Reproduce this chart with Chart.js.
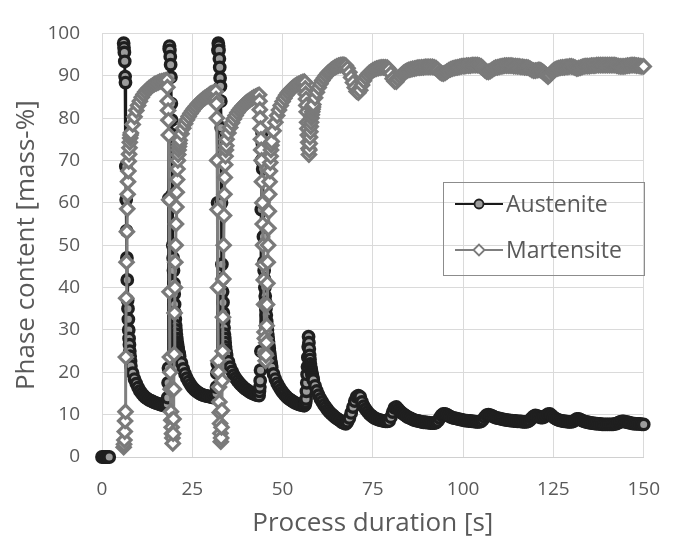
<!DOCTYPE html>
<html>
<head>
<meta charset="utf-8">
<script src="https://cdn.jsdelivr.net/npm/chart.js@4.4.1/dist/chart.umd.min.js"></script>
<style>
  html, body { margin: 0; padding: 0; background: #fff; }
  #wrap { width: 681px; height: 545px; }
</style>
</head>
<body>
<div id="wrap"><canvas id="phaseChart" width="681" height="545"></canvas></div>
<script>
// process time [s], shared by both phases
const timeS = [
    0, 0.5, 1, 1.5, 2, 4,
    // cycle 1
    6.0, 6.1, 6.2, 6.3, 6.4, 6.5, 6.6, 6.7, 6.8, 6.9, 7.0, 7.1, 7.2, 7.3, 7.4, 7.5, 7.6, 7.7, 7.8, 7.9,
    8, 8.5, 9, 9.5, 10, 10.5, 11, 11.5, 12, 12.5, 13, 13.5, 14, 14.5, 15, 15.5, 16, 16.5, 17, 17.5, 18,
    // cycle 2
    18.1, 18.2, 18.3, 18.4, 18.5, 18.6, 18.7, 18.8, 18.9, 19.0, 19.1, 19.2, 19.3, 19.4, 19.5, 19.6, 19.7,
    19.8, 19.9, 20.0, 20.1, 20.2, 20.3, 20.4, 20.5, 20.6, 20.7, 20.8, 20.9, 21.0, 21.1, 21.2, 21.3, 21.4,
    21.5, 22, 22.5, 23, 23.5, 24, 24.5, 25, 25.5, 26, 26.5, 27, 27.5, 28, 28.5, 29, 29.5, 30, 30.5, 31, 31.5,
    // cycle 3
    31.6, 31.7, 31.8, 31.9, 32.0, 32.1, 32.2, 32.3, 32.4, 32.5, 32.6, 32.7, 32.8, 32.9, 33.0,
    33.1, 33.2, 33.3, 33.4, 33.5, 33.6, 33.7, 33.8, 33.9, 34.0, 34.1, 34.2, 34.3, 34.4,
    34.5, 35, 35.5, 36, 36.5, 37, 37.5, 38, 38.5, 39, 39.5, 40, 40.5, 41, 41.5, 42, 42.5, 43, 43.5,
    // cycle 4
    43.6, 43.7, 43.8, 43.9, 44.0, 44.1, 44.2, 44.3, 44.4, 44.5, 44.6, 44.7, 44.8, 44.9, 45.0, 45.1, 45.2,
    45.3, 45.4, 45.5, 45.6, 45.7, 45.8, 45.9, 46.0, 46.1, 46.2, 46.3, 46.4, 46.5, 46.6, 46.7, 46.8, 46.9,
    47, 47.5, 48, 48.5, 49, 49.5, 50, 50.5, 51, 51.5, 52, 52.5, 53, 53.5, 54, 54.5, 55, 55.5, 56,
    // cycle 5
    56.2, 56.3, 56.4, 56.5, 56.6, 56.7, 56.8, 56.9, 57.0, 57.1, 57.2, 57.3, 57.4, 57.5, 57.6, 57.7,
    57.8, 57.9, 58.0, 58.1, 58.2, 58.3, 58.4,
    58.5, 59, 59.5, 60, 60.5, 61, 61.5, 62, 62.5, 63, 63.5, 64, 64.5, 65, 65.5, 66, 66.5, 67,
    // later, damped cycles
    67.5, 68, 68.5, 69, 69.5, 70, 70.5, 71, 71.5, 72,
    72.5, 73, 73.5, 74, 74.5, 75, 75.5, 76, 76.5, 77,
    77.5, 78, 78.5, 79, 79.5, 80, 80.5, 81, 81.5, 82,
    82.5, 83, 83.5, 84, 84.5, 85, 85.5, 86, 86.5, 87,
    87.5, 88, 88.5, 89, 89.5, 90, 90.5, 91, 91.5, 92,
    92.5, 93, 93.5, 94, 94.5, 95, 95.5, 96, 96.5, 97,
    97.5, 98, 98.5, 99, 99.5, 100, 100.5, 101, 101.5, 102,
    102.5, 103, 103.5, 104, 104.5, 105, 105.5, 106, 106.5, 107,
    107.5, 108, 108.5, 109, 109.5, 110, 110.5, 111, 111.5, 112,
    112.5, 113, 113.5, 114, 114.5, 115, 115.5, 116, 116.5, 117,
    117.5, 118, 118.5, 119, 119.5, 120, 120.5, 121, 121.5, 122,
    122.5, 123, 123.5, 124, 124.5, 125, 125.5, 126, 126.5, 127,
    127.5, 128, 128.5, 129, 129.5, 130, 130.5, 131, 131.5, 132,
    132.5, 133, 133.5, 134, 134.5, 135, 135.5, 136, 136.5, 137,
    137.5, 138, 138.5, 139, 139.5, 140, 140.5, 141, 141.5, 142,
    142.5, 143, 143.5, 144, 144.5, 145, 145.5, 146, 146.5, 147,
    147.5, 148, 148.5, 149, 149.5, 150
];

// austenite [mass-%]
const austenite = [
    0, 0, 0, 0, 0, null,
    97.7, 96.6, 95.5, 93.4, 89.8, 88.4, 68.6, 60.7, 53.4, 47.0, 41.8, 37.0, 35.0, 32.5, 30.0, 28.0, 26.5, 25.0, 23.8, 22.6,
    21.5, 19.8, 18.4, 17.3, 16.4, 15.6, 15.0, 14.5, 14.1, 13.8, 13.5, 13.3, 13.1, 12.9, 12.7, 12.6, 12.4, 12.3, 12.2, 12.1, 12.0,
    12.5, 14.0, 17.5, 21.0, 61.0, 96.4, 97.0, 96.0, 94.5, 92.6, 89.7, 83.4, 79.5, 76.1, 62.0, 50.0, 47.0,
    44.0, 41.0, 38.5, 36.0, 34.0, 32.5, 31.0, 30.0, 29.0, 28.0, 27.2, 26.6, 26.0, 25.5, 25.0, 24.6, 24.2,
    23.8, 22.2, 20.8, 19.6, 18.6, 17.8, 17.1, 16.5, 16.0, 15.6, 15.3, 15.0, 14.8, 14.6, 14.5, 14.4, 14.3, 14.2, 14.1, 14.0, 14.0,
    15.0, 16.5, 19.8, 22.0, 60.0, 96.0, 97.7, 97.0, 96.0, 94.0, 92.0, 89.5, 87.5, 84.0, 77.7,
    60.0, 45.5, 42.0, 39.0, 36.5, 34.0, 32.0, 30.5, 29.0, 28.0, 27.0, 26.0, 25.2, 24.5,
    24.0, 22.5, 21.2, 20.2, 19.3, 18.6, 18.0, 17.5, 17.0, 16.6, 16.2, 15.9, 15.6, 15.3, 15.1, 14.9, 14.7, 14.6, 14.5,
    15.5, 16.5, 18.0, 20.5, 25.0, 58.4, 70.0, 76.6, 74.0, 68.0, 60.0, 52.0, 46.0, 44.0, 42.0, 40.0, 38.0,
    36.5, 35.0, 33.5, 32.0, 31.0, 30.0, 29.0, 28.0, 27.2, 26.4, 25.6, 24.8, 24.0, 23.3, 22.7, 22.1, 21.6,
    21.2, 19.6, 18.4, 17.4, 16.6, 15.9, 15.3, 14.8, 14.3, 13.9, 13.6, 13.3, 13.0, 12.8, 12.6, 12.4, 12.3, 12.2, 12.1,
    12.3, 12.6, 13.0, 13.7, 15.5, 17.5, 19.5, 21.3, 23.5, 26.0, 28.4, 27.0, 25.5, 24.0, 23.0, 22.0,
    21.3, 20.7, 20.2, 19.8, 19.4, 19.0, 18.6,
    18.2, 16.8, 15.6, 14.6, 13.7, 13.0, 12.3, 11.7, 11.1, 10.6, 10.2, 9.8, 9.4, 9.1, 8.8, 8.5, 8.2, 8.0,
    7.8, 8.3, 9.2, 10.4, 11.8, 13.2, 14.2, 14.5, 14.2, 13.0,
    12.0, 11.3, 10.7, 10.2, 9.8, 9.5, 9.2, 9.0, 8.8, 8.7,
    8.6, 8.5, 8.4, 8.4, 8.5, 9.4, 10.6, 11.6, 11.8, 11.3,
    10.8, 10.4, 10.1, 9.8, 9.5, 9.3, 9.1, 8.9, 8.7, 8.6,
    8.5, 8.4, 8.3, 8.2, 8.2, 8.1, 8.1, 8.0, 8.0, 8.0,
    8.1, 8.5, 9.2, 9.8, 10.2, 10.2, 10.0, 9.7, 9.5, 9.3,
    9.2, 9.1, 9.0, 8.9, 8.8, 8.7, 8.6, 8.6, 8.5, 8.5,
    8.4, 8.4, 8.3, 8.3, 8.3, 8.4, 8.8, 9.4, 9.9, 10.0,
    9.9, 9.7, 9.5, 9.3, 9.2, 9.1, 9.0, 8.9, 8.8, 8.7,
    8.7, 8.6, 8.6, 8.5, 8.5, 8.4, 8.4, 8.4, 8.3, 8.3,
    8.3, 8.4, 8.7, 9.2, 9.6, 9.8, 9.7, 9.5, 9.3, 9.3,
    9.5, 9.8, 10.1, 10.2, 9.8, 9.4, 9.1, 8.9, 8.7, 8.6,
    8.5, 8.4, 8.4, 8.3, 8.3, 8.3, 8.4, 8.7, 9.0, 9.0,
    8.8, 8.6, 8.4, 8.3, 8.2, 8.1, 8.0, 8.0, 7.9, 7.9,
    7.8, 7.8, 7.7, 7.7, 7.7, 7.7, 7.7, 7.7, 7.7, 7.8,
    7.9, 8.1, 8.3, 8.4, 8.4, 8.3, 8.2, 8.1, 8.0, 7.9,
    7.9, 7.8, 7.8, 7.8, 7.7, 7.7
];

// martensite [mass-%]
const martensite = [
    null, null, null, null, null, null,
    2.3, 3.0, 4.0, 6.0, 8.5, 10.7, 23.6, 37.5, 46.0, 53.2, 58.6, 62.0, 65.0, 67.5, 69.8, 71.5, 73.0, 74.3, 75.3, 76.0,
    76.5, 78.5, 80.3, 81.8, 83.0, 84.0, 84.9, 85.6, 86.2, 86.7, 87.1, 87.4, 87.7, 88.0, 88.2, 88.4, 88.6, 88.7, 88.8, 88.9, 89.0,
    87.3, 84.0, 81.8, 79.5, 76.0, 60.7, 39.0, 23.6, 20.0, 16.0, 10.7, 8.7, 7.0, 5.5, 4.5, 3.2, 5.5,
    9.0, 16.0, 24.3, 34.0, 40.0, 46.0, 50.0, 55.0, 59.0, 62.5, 65.5, 68.0, 70.0, 71.4, 72.5, 73.3, 74.0,
    74.8, 76.3, 77.6, 78.7, 79.6, 80.4, 81.1, 81.7, 82.3, 82.8, 83.3, 83.7, 84.1, 84.5, 84.8, 85.1, 85.4, 85.7, 85.9, 86.1, 86.3,
    84.5, 83.4, 80.0, 70.0, 58.4, 40.0, 22.7, 20.0, 16.5, 13.0, 10.5, 7.9, 5.6, 3.6, 4.5,
    7.0, 11.0, 18.0, 25.0, 33.0, 42.0, 50.0, 57.0, 62.0, 66.0, 69.0, 71.0, 72.5, 73.5,
    75.0, 76.5, 77.8, 78.9, 79.8, 80.6, 81.3, 81.9, 82.4, 82.9, 83.3, 83.7, 84.0, 84.3, 84.6, 84.9, 85.1, 85.3, 85.5,
    84.0, 82.0, 80.0, 77.5, 75.0, 72.5, 70.0, 65.0, 60.0, 55.0, 50.0, 45.5, 41.8, 36.0, 29.5, 28.0, 24.5,
    22.7, 24.0, 27.0, 31.0, 36.0, 41.0, 46.0, 50.0, 54.0, 58.0, 62.0, 65.0, 67.5, 69.5, 71.0, 72.5, 73.6,
    74.5, 77.0, 79.0, 80.6, 81.9, 83.0, 83.9, 84.7, 85.4, 86.0, 86.5, 86.9, 87.3, 87.6, 87.9, 88.1, 88.3, 88.5, 88.6,
    88.4, 87.0, 85.7, 84.5, 83.0, 81.5, 79.0, 77.5, 76.0, 74.3, 72.8, 71.4, 72.5, 74.0, 75.5, 76.8,
    78.0, 79.0, 80.0, 80.8, 81.5, 82.1, 82.6,
    83.2, 84.8, 86.1, 87.2, 88.1, 88.9, 89.5, 90.1, 90.6, 91.0, 91.4, 91.7, 92.0, 92.2, 92.4, 92.5, 92.6, 92.6,
    92.4, 91.8, 90.8, 89.6, 88.4, 87.2, 86.3, 86.0, 86.6, 87.8,
    88.8, 89.6, 90.2, 90.7, 91.0, 91.3, 91.5, 91.7, 91.8, 91.9,
    92.0, 92.0, 92.0, 91.9, 91.5, 90.5, 89.3, 88.7, 88.6, 89.2,
    89.8, 90.3, 90.7, 91.0, 91.2, 91.4, 91.5, 91.6, 91.7, 91.8,
    91.9, 91.9, 92.0, 92.0, 92.1, 92.1, 92.1, 92.1, 92.1, 92.0,
    91.8, 91.4, 90.9, 90.6, 90.5, 90.7, 91.0, 91.3, 91.5, 91.7,
    91.8, 91.9, 92.0, 92.1, 92.2, 92.3, 92.3, 92.4, 92.4, 92.4,
    92.5, 92.5, 92.5, 92.5, 92.4, 92.2, 91.8, 91.3, 91.0, 90.9,
    91.1, 91.4, 91.7, 91.9, 92.0, 92.1, 92.2, 92.3, 92.4, 92.4,
    92.4, 92.4, 92.4, 92.3, 92.3, 92.2, 92.2, 92.1, 92.1, 92.0,
    92.0, 91.9, 91.7, 91.4, 91.2, 91.2, 91.3, 91.4, 91.3, 91.0,
    90.6, 90.2, 89.8, 90.2, 90.8, 91.2, 91.5, 91.7, 91.8, 91.9,
    92.0, 92.0, 92.1, 92.1, 92.2, 92.2, 92.1, 91.9, 91.7, 91.8,
    91.9, 92.1, 92.2, 92.3, 92.3, 92.3, 92.4, 92.4, 92.4, 92.5,
    92.5, 92.5, 92.5, 92.5, 92.5, 92.5, 92.5, 92.5, 92.5, 92.5,
    92.4, 92.3, 92.2, 92.2, 92.2, 92.3, 92.4, 92.4, 92.5, 92.5,
    92.5, 92.4, 92.4, 92.3, 92.2, 92.2
];

const xTicks = [0, 25, 50, 75, 100, 125, 150];
const yTicks = [0, 10, 20, 30, 40, 50, 60, 70, 80, 90, 100];

const FONT = "'Open Sans', 'DejaVu Sans', sans-serif";
const TEXT = '#595959';

const styleA = { line: '#1a1a1a', fill: '#9c9c9c', edge: '#1f1f1f' };
const styleM = { line: '#7f7f7f', fill: '#ffffff', edge: '#7a7a7a' };

function toPoints(values) {
    return timeS.map((t, i) => ({ x: t, y: values[i] === undefined ? null : values[i] }));
}

// legend box drawn inside the plot, like the original
const boxLegend = {
    id: 'boxLegend',
    afterDraw(chart) {
        const ctx = chart.ctx;
        ctx.save();
        ctx.strokeStyle = '#8c8c8c';
        ctx.lineWidth = 1;
        ctx.strokeRect(443.5, 182.5, 201, 93);

        const rows = [
            { label: 'Austenite', y: 204, s: styleA, shape: 'circle' },
            { label: 'Martensite', y: 250, s: styleM, shape: 'diamond' }
        ];
        rows.forEach(r => {
            ctx.strokeStyle = r.s.line;
            ctx.lineWidth = 2;
            ctx.beginPath();
            ctx.moveTo(455, r.y);
            ctx.lineTo(503, r.y);
            ctx.stroke();

            ctx.fillStyle = r.s.fill;
            ctx.strokeStyle = r.s.edge;
            ctx.lineWidth = 1.8;
            ctx.beginPath();
            if (r.shape === 'circle') {
                ctx.arc(479, r.y, 4.5, 0, Math.PI * 2);
            } else {
                ctx.moveTo(479 - 5.5, r.y);
                ctx.lineTo(479, r.y - 5.5);
                ctx.lineTo(479 + 5.5, r.y);
                ctx.lineTo(479, r.y + 5.5);
                ctx.closePath();
            }
            ctx.fill();
            ctx.stroke();

            ctx.fillStyle = TEXT;
            ctx.font = '23px ' + FONT;
            ctx.textAlign = 'left';
            ctx.textBaseline = 'middle';
            ctx.fillText(r.label, 506, r.y + 1);
        });
        ctx.restore();
    }
};

new Chart(document.getElementById('phaseChart'), {
    type: 'scatter',
    data: {
        datasets: [
            {
                label: 'Austenite',
                data: toPoints(austenite),
                showLine: true,
                spanGaps: false,
                borderColor: styleA.line,
                borderWidth: 3,
                pointStyle: 'circle',
                pointRadius: 5.2,
                pointBorderWidth: 3.4,
                pointBackgroundColor: styleA.fill,
                pointBorderColor: styleA.edge,
                clip: false,
                order: 2
            },
            {
                label: 'Martensite',
                data: toPoints(martensite),
                showLine: true,
                spanGaps: false,
                borderColor: styleM.line,
                borderWidth: 3,
                pointStyle: 'rectRot',
                pointRadius: 6.6,
                pointBorderWidth: 3.2,
                pointBackgroundColor: styleM.fill,
                pointBorderColor: styleM.edge,
                clip: false,
                order: 1
            }
        ]
    },
    options: {
        responsive: false,
        animation: false,
        devicePixelRatio: 1,
        layout: { padding: { left: 0, right: 33, top: 17, bottom: 0 } },
        plugins: {
            legend: { display: false },
            tooltip: { enabled: false }
        },
        scales: {
            x: {
                type: 'linear',
                min: 0,
                max: 150,
                afterFit: s => { s.height = 88; },
                afterBuildTicks: s => { s.ticks = xTicks.map(v => ({ value: v })); },
                ticks: { color: TEXT, font: { family: FONT, size: 19 }, padding: 21 },
                grid: { color: '#dadada', lineWidth: 1, drawTicks: false },
                border: { color: '#d0d0d0' },
                title: {
                    display: true,
                    text: 'Process duration [s]',
                    color: TEXT,
                    font: { family: FONT, size: 26 },
                    padding: { top: 0, bottom: 6 }
                }
            },
            y: {
                type: 'linear',
                min: 0,
                max: 100,
                afterFit: s => { s.width = 102; },
                afterBuildTicks: s => { s.ticks = yTicks.map(v => ({ value: v })); },
                ticks: { color: TEXT, font: { family: FONT, size: 19 }, padding: 22 },
                grid: { color: '#dadada', lineWidth: 1, drawTicks: false },
                border: { display: false },
                title: {
                    display: true,
                    text: 'Phase content [mass-%]',
                    color: TEXT,
                    font: { family: FONT, size: 26 },
                    padding: { top: 11, bottom: 0 }
                }
            }
        }
    },
    plugins: [boxLegend]
});
</script>
</body>
</html>
